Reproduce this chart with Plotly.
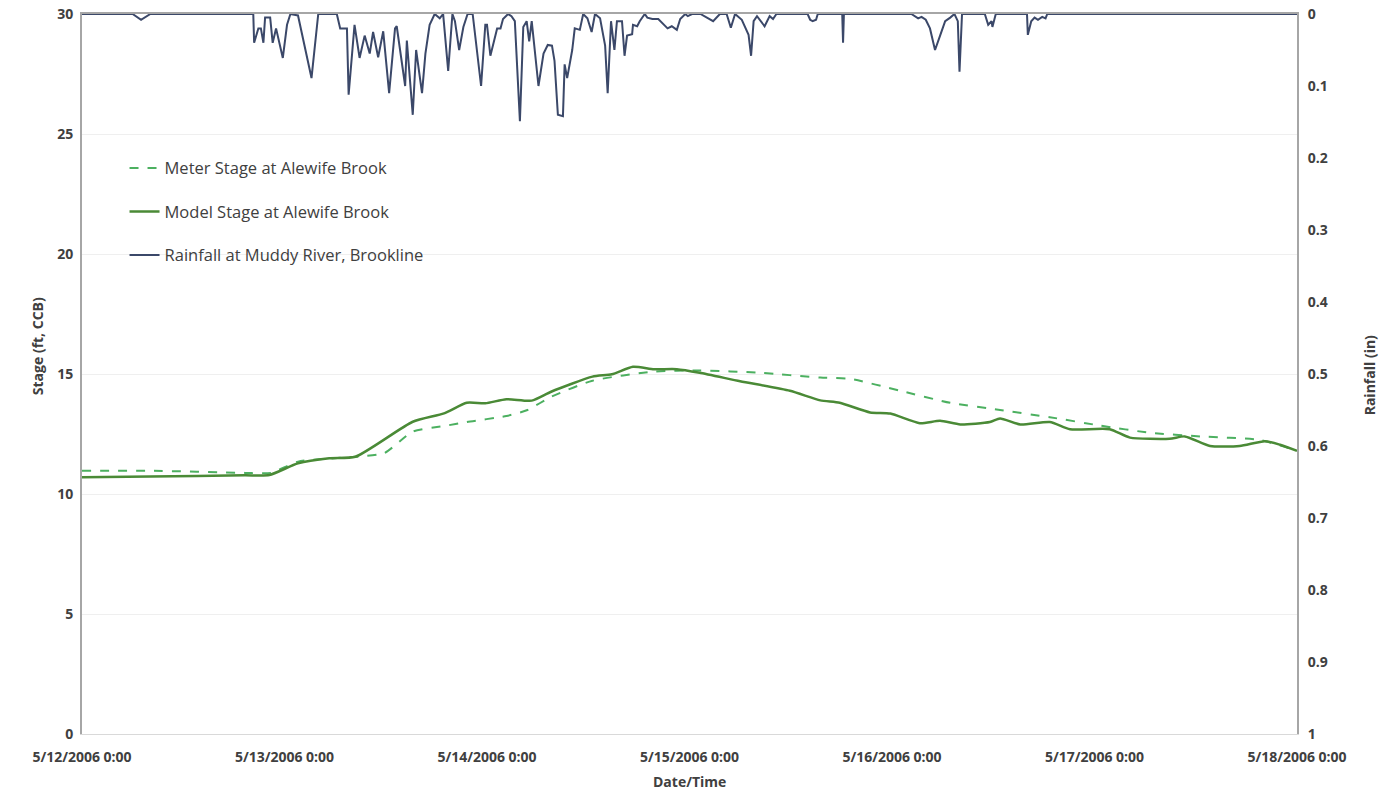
import pandas as pd
import plotly.graph_objects as go

START = pd.Timestamp("2006-05-12 00:00")

# Rainfall at Muddy River, Brookline (hours since start, inches)
rain_hours = [0.0, 6.0, 7.0, 8.1, 20.3, 20.4, 20.9, 21.2, 21.5, 21.7, 22.3, 22.6, 23.0, 23.8, 24.3,
              24.7, 25.6, 27.2, 28.0, 30.2, 30.6, 31.4, 31.6, 32.3, 32.9, 33.5, 34.1, 34.5, 35.1,
              35.7, 36.4, 37.1, 37.3, 38.3, 38.5, 39.2, 39.6, 40.3, 40.7, 41.2, 41.8, 42.4, 42.8,
              43.4, 43.9, 44.2, 44.7, 45.2, 45.7, 46.3, 47.3, 47.8, 48.0, 48.4, 49.2, 49.6, 49.9,
              50.5, 50.9, 51.3, 51.9, 52.3, 52.7, 53.0, 53.3, 54.1, 54.7, 55.2, 55.7, 56.0, 56.4,
              57.0, 57.2, 57.5, 58.1, 58.4, 59.0, 59.4, 59.9, 60.4, 60.8, 61.4, 62.0, 62.3, 62.7,
              63.1, 63.4, 64.0, 64.3, 64.6, 65.2, 65.3, 65.8, 66.1, 66.7, 67.0, 67.6, 68.3, 69.4,
              69.9, 70.5, 70.9, 71.5, 71.8, 72.3, 73.3, 74.8, 75.6, 76.4, 76.9, 77.4, 78.2, 79.0,
              79.3, 79.6, 80.0, 80.9, 81.5, 81.9, 82.3, 86.0, 86.3, 86.6, 87.0, 87.2, 90.1, 90.2,
              90.3, 98.3, 99.1, 99.5, 100.0, 100.5, 101.1, 101.7, 102.3, 102.9, 103.4, 103.8,
              104.0, 104.3, 107.0, 107.4, 107.8, 107.9, 108.3, 112.0, 112.1, 112.5, 112.9, 113.3,
              113.8, 114.2, 114.4, 144.0]
rain_in = [0.0, 0.0, 0.008, 0.0, 0.0, 0.04, 0.02, 0.02, 0.04, 0.005, 0.005, 0.04, 0.02, 0.061, 0.015,
           0.0, 0.002, 0.089, 0.0, 0.0, 0.02, 0.02, 0.112, 0.015, 0.061, 0.03, 0.055, 0.025, 0.06,
           0.024, 0.11, 0.02, 0.017, 0.1, 0.037, 0.14, 0.05, 0.11, 0.055, 0.015, 0.0, 0.006, 0.0,
           0.079, 0.0, 0.01, 0.05, 0.018, 0.0, 0.0, 0.1, 0.015, 0.015, 0.058, 0.02, 0.02, 0.007,
           0.0, 0.003, 0.01, 0.149, 0.018, 0.01, 0.038, 0.01, 0.1, 0.055, 0.043, 0.044, 0.065, 0.14,
           0.142, 0.07, 0.089, 0.05, 0.02, 0.022, 0.0, 0.006, 0.025, 0.0, 0.006, 0.044, 0.11, 0.01,
           0.05, 0.01, 0.01, 0.058, 0.03, 0.028, 0.015, 0.017, 0.01, 0.0, 0.005, 0.007, 0.007, 0.02,
           0.017, 0.022, 0.007, 0.0, 0.003, 0.0, 0.0, 0.01, 0.0, 0.0, 0.019, 0.0, 0.008, 0.029,
           0.058, 0.01, 0.003, 0.017, 0.003, 0.007, 0.0, 0.0, 0.008, 0.01, 0.008, 0.0, 0.0, 0.04,
           0.0, 0.0, 0.006, 0.004, 0.008, 0.02, 0.05, 0.03, 0.01, 0.005, 0.0, 0.01,
           0.08, 0.0, 0.0, 0.015, 0.01, 0.018, 0.0, 0.0, 0.029, 0.01, 0.005, 0.008,
           0.004, 0.006, 0.0, 0.0]

# Meter stage at Alewife Brook (ft, CCB)
meter_hours = [0.0, 8.1, 19.3, 22.4, 25.6, 32.4, 35.8, 39.2, 42.9, 45.6, 50.3, 52.8, 55.6, 60.5,
               67.8, 73.2, 80.4, 87.5, 91.0, 97.0, 102.9, 108.8, 114.7, 120.7, 126.6, 132.5,
               139.6, 144.0]
meter_ft = [10.97, 10.97, 10.88, 10.88, 11.35, 11.55, 11.7, 12.6, 12.83, 13.0, 13.25, 13.5, 14.05,
            14.72, 15.1, 15.15, 15.05, 14.85, 14.8, 14.3, 13.8, 13.5, 13.2, 12.85, 12.55, 12.4,
            12.25, 11.8]

# Model stage at Alewife Brook (ft, CCB)
model_hours = [0.0, 8.1, 19.3, 22.2, 25.6, 29.3, 32.4, 39.2, 42.9, 45.6, 47.8, 50.3, 53.3, 55.6,
               60.5, 62.8, 65.3, 67.8, 70.5, 73.2, 78.0, 83.9, 87.5, 89.8, 93.4, 95.8, 99.3, 101.7,
               104.1, 107.6, 108.8, 111.2, 114.7, 117.1, 121.8, 124.2, 128.9, 130.7, 133.7, 137.2,
               140.2, 142.0, 144.0]
model_ft = [10.7, 10.73, 10.78, 10.79, 11.28, 11.49, 11.55, 13.01, 13.36, 13.8, 13.78, 13.95, 13.89,
            14.26, 14.89, 14.99, 15.3, 15.2, 15.2, 15.05, 14.7, 14.3, 13.9, 13.8, 13.4, 13.35,
            12.95, 13.05, 12.9, 13.0, 13.15, 12.9, 13.0, 12.7, 12.7, 12.35, 12.3, 12.4, 12.0,
            12.0, 12.2, 12.05, 11.8]

tick_hours = [0, 24, 48, 72, 96, 120, 144]
tick_labels = ["5/12/2006 0:00", "5/13/2006 0:00", "5/14/2006 0:00", "5/15/2006 0:00",
               "5/16/2006 0:00", "5/17/2006 0:00", "5/18/2006 0:00"]
stage_ticks = [0, 5, 10, 15, 20, 25, 30]
rain_ticks = [0, 0.1, 0.2, 0.3, 0.4, 0.5, 0.6, 0.7, 0.8, 0.9, 1]


def to_time(hours):
    return START + pd.to_timedelta(hours, unit="h")


FONT = "Open Sans"
TXT = "#404040"
TICKFONT = dict(size=14, color=TXT, family=FONT, weight="bold")
TITLEFONT = dict(size=14, color=TXT, family=FONT)

fig = go.Figure()
fig.add_trace(go.Scatter(
    x=to_time(meter_hours), y=meter_ft, mode="lines", name="Meter Stage at Alewife Brook",
    line=dict(color="#4cb060", width=2, dash="dash", shape="spline", smoothing=0.6),
    legendgroup="a", xaxis="x", yaxis="y"))
fig.add_trace(go.Scatter(
    x=to_time(model_hours), y=model_ft, mode="lines", name="Model Stage at Alewife Brook",
    line=dict(color="#4a8a36", width=2.5, shape="spline", smoothing=0.6),
    legendgroup="b", xaxis="x", yaxis="y"))
fig.add_trace(go.Scatter(
    x=to_time(rain_hours), y=rain_in, mode="lines", name="Rainfall at Muddy River, Brookline",
    line=dict(color="#3b4869", width=2),
    legendgroup="c", xaxis="x2", yaxis="y2"))

x_range = [to_time([0.0])[0], to_time([144.0])[0]]

fig.update_layout(
    width=1382, height=793,
    margin=dict(l=82, r=85, t=14, b=59, autoexpand=False),
    paper_bgcolor="white", plot_bgcolor="white",
    font=dict(family=FONT, color=TXT),
    showlegend=True,
    legend=dict(x=0.035, y=0.81, xanchor="left", yanchor="top", bgcolor="rgba(0,0,0,0)",
                font=dict(size=16.5, color=TXT, family=FONT), tracegroupgap=19,
                traceorder="grouped", itemwidth=30),
    xaxis=dict(type="date", range=x_range, tickvals=to_time(tick_hours),
               ticktext=tick_labels, showgrid=False, zeroline=False, automargin=False,
               showline=True, linecolor="#d9d9d9", linewidth=1, ticks="",
               ticklabelstandoff=10, tickfont=TICKFONT),
    xaxis2=dict(type="date", range=x_range, overlaying="x", side="top", matches="x",
                showticklabels=False, showgrid=False, zeroline=False, ticks="",
                automargin=False, showline=True, linecolor="#a6a6a6", linewidth=2),
    yaxis=dict(range=[0, 30], tickvals=stage_ticks, showgrid=True, gridcolor="#efefef",
               gridwidth=1, zeroline=False, showline=True, linecolor="#a6a6a6", linewidth=2,
               ticks="", automargin=False, ticklabelstandoff=4, tickfont=TICKFONT),
    yaxis2=dict(range=[1, 0], tickvals=rain_ticks, overlaying="y", side="right",
                showgrid=False, zeroline=False, showline=True, linecolor="#a6a6a6",
                linewidth=2, ticks="", automargin=False, ticklabelstandoff=6,
                tickfont=TICKFONT),
    annotations=[
        dict(text="<b>Date/Time</b>", xref="paper", yref="paper", x=0.5, y=-0.0653,
             xanchor="center", yanchor="middle", showarrow=False, font=TITLEFONT),
        dict(text="<b>Stage (ft, CCB)</b>", xref="paper", yref="paper", x=-0.036, y=0.539,
             xanchor="center", yanchor="middle", textangle=-90, showarrow=False,
             font=TITLEFONT),
        dict(text="<b>Rainfall (in)</b>", xref="paper", yref="paper", x=1.06, y=0.498,
             xanchor="center", yanchor="middle", textangle=-90, showarrow=False,
             font=TITLEFONT),
    ],
)

fig.write_html("out.html")
